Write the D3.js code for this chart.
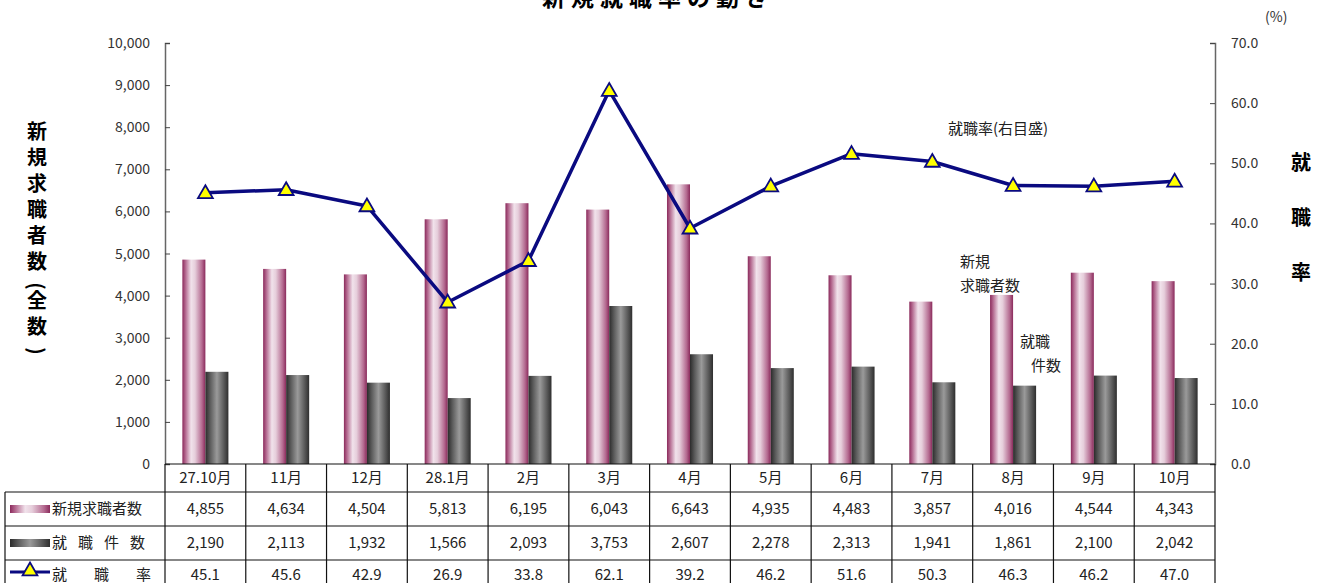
<!DOCTYPE html>
<html>
<head>
<meta charset="utf-8">
<script src="https://cdn.jsdelivr.net/npm/d3@7"></script>
<style>
  body { margin: 0; background: #fff; }
  svg { font-family: "Noto Sans CJK JP", "Noto Sans", sans-serif; }
</style>
</head>
<body>
<svg id="chart" width="1327" height="583"></svg>
<script>
// data
const months = ['27.10月', '11月', '12月', '28.1月', '2月', '3月', '4月', '5月', '6月', '7月', '8月', '9月', '10月'];
const seekers = [4855, 4634, 4504, 5813, 6195, 6043, 6643, 4935, 4483, 3857, 4016, 4544, 4343];
const placements = [2190, 2113, 1932, 1566, 2093, 3753, 2607, 2278, 2313, 1941, 1861, 2100, 2042];
const rate = [45.1, 45.6, 42.9, 26.9, 33.8, 62.1, 39.2, 46.2, 51.6, 50.3, 46.3, 46.2, 47.0];
const leftTicks = [0, 1000, 2000, 3000, 4000, 5000, 6000, 7000, 8000, 9000, 10000];
const rightTicks = [0, 10, 20, 30, 40, 50, 60, 70];

const svg = d3.select('#chart');
const plotL = 165, plotR = 1215, plotT = 43, base = 464;

const x = d3.scaleBand().domain(months).range([plotL, plotR]);
const yL = d3.scaleLinear().domain([0, 10000]).range([base, plotT]);
const yR = d3.scaleLinear().domain([0, 70]).range([base, plotT]);

// gradients for the cylinder-looking bars
const defs = svg.append('defs');
const pink = defs.append('linearGradient').attr('id', 'pink');
[[0, '#8a2a5b'], [0.12, '#b0628a'], [0.38, '#f1e2eb'], [0.55, '#e6cedb'], [0.85, '#b46a90'], [1, '#8a2a5b']]
  .forEach(s => pink.append('stop').attr('offset', s[0]).attr('stop-color', s[1]));
const gray = defs.append('linearGradient').attr('id', 'gray');
[[0, '#2b2b2b'], [0.2, '#5a5a5a'], [0.5, '#9a9a9a'], [0.8, '#5a5a5a'], [1, '#2e2e2e']]
  .forEach(s => gray.append('stop').attr('offset', s[0]).attr('stop-color', s[1]));

// title, cut off at the top like the picture
svg.append('text').attr('x', 658).attr('y', 6).attr('text-anchor', 'middle')
  .attr('font-size', 23).attr('font-weight', 'bold').attr('letter-spacing', 6)
  .text('新規就職率の動き');

// bars
const bw = x.bandwidth() * 0.285;
const center = d => x(d) + x.bandwidth() / 2;
svg.append('g').selectAll('rect').data(months).join('rect')
  .attr('x', d => center(d) - bw).attr('width', bw)
  .attr('y', (d, i) => yL(seekers[i])).attr('height', (d, i) => base - yL(seekers[i]))
  .attr('fill', 'url(#pink)');
svg.append('g').selectAll('rect').data(months).join('rect')
  .attr('x', d => center(d)).attr('width', bw)
  .attr('y', (d, i) => yL(placements[i])).attr('height', (d, i) => base - yL(placements[i]))
  .attr('fill', 'url(#gray)');

// axes
const axL = svg.append('g').attr('transform', `translate(${plotL},0)`)
  .call(d3.axisRight(yL).tickValues(leftTicks).tickSize(5).tickFormat(''));
const axR = svg.append('g').attr('transform', `translate(${plotR},0)`)
  .call(d3.axisLeft(yR).tickValues(rightTicks).tickSize(5).tickFormat(''));
[axL, axR].forEach(a => {
  a.select('.domain').attr('stroke', '#666').attr('stroke-width', 1.5);
  a.selectAll('.tick line').attr('stroke', '#444');
});
svg.append('g').selectAll('text').data(leftTicks).join('text')
  .attr('x', 150).attr('y', d => yL(d) + 5).attr('text-anchor', 'end')
  .attr('font-size', 14).attr('fill', '#333').text(d => d3.format(',')(d));
svg.append('g').selectAll('text').data(rightTicks).join('text')
  .attr('x', 1231).attr('y', d => yR(d) + 5)
  .attr('font-size', 14).attr('fill', '#333').text(d => d.toFixed(1));
svg.append('text').attr('x', 1265).attr('y', 22).attr('font-size', 14).attr('fill', '#333').text('(%)');

// axis titles (vertical); brackets are turned and take a short step
const leftTitle = '新規求職者数(全数)'.split('');
let ty = 139;
const titleY = leftTitle.map(c => {
  const half = c === '(' || c === ')';
  const y = ty + (half ? -9 : 0);
  ty += half ? 13 : 26;
  return y;
});
svg.append('g').selectAll('text').data(leftTitle).join('text')
  .attr('x', 37).attr('y', (d, i) => titleY[i]).attr('text-anchor', 'middle')
  .attr('dominant-baseline', (d) => (d === '(' || d === ')') ? 'central' : null)
  .attr('transform', (d, i) => (d === '(' || d === ')') ? `rotate(90 37 ${titleY[i]})` : null)
  .attr('font-size', 20).attr('font-weight', 'bold').text(d => d);
svg.append('g').selectAll('text').data(['就', '職', '率']).join('text')
  .attr('x', 1301).attr('y', (d, i) => 170 + i * 55).attr('text-anchor', 'middle')
  .attr('font-size', 20).attr('font-weight', 'bold').text(d => d);

// rate line
const line = d3.line().x((d, i) => center(months[i])).y(d => yR(d));
svg.append('path').datum(rate).attr('d', line)
  .attr('fill', 'none').attr('stroke', '#0a0a80').attr('stroke-width', 3.5).attr('stroke-linejoin', 'round');
const tri = d3.symbol().type(d3.symbolTriangle).size(95);
svg.append('g').selectAll('path').data(rate).join('path')
  .attr('d', tri).attr('transform', (d, i) => `translate(${center(months[i])},${yR(d) + 1})`)
  .attr('fill', '#ffff00').attr('stroke', '#0a0a80').attr('stroke-width', 1.8);

// annotations
const note = (t, xx, yy) => svg.append('text').attr('x', xx).attr('y', yy)
  .attr('font-size', 15).attr('fill', '#222').text(t);
note('就職率(右目盛)', 948, 134);
note('新規', 960, 267);
note('求職者数', 960, 291);
note('就職', 1020, 347);
note('件数', 1031, 371);

// data table
const rows = [base, 492, 526, 560, 590];
const tbl = svg.append('g').attr('stroke', '#111').attr('stroke-width', 1.2);
tbl.append('line').attr('x1', plotL).attr('x2', plotR).attr('y1', base).attr('y2', base);
rows.slice(1).forEach(r => tbl.append('line').attr('x1', 5).attr('x2', plotR).attr('y1', r).attr('y2', r));
tbl.append('line').attr('x1', 5).attr('x2', 5).attr('y1', 492).attr('y2', 590);
const cols = months.map(m => x(m)).concat([plotR]);
tbl.selectAll('.col').data(cols).join('line').attr('class', 'col')
  .attr('x1', d => d).attr('x2', d => d).attr('y1', base).attr('y2', 590);

const my = r => (rows[r] + rows[r + 1]) / 2;
const cellRows = [months, seekers.map(d3.format(',')), placements.map(d3.format(',')), rate.map(d => d.toFixed(1))];
cellRows.forEach((vals, r) => {
  svg.append('g').selectAll('text').data(vals).join('text')
    .attr('x', (d, i) => center(months[i])).attr('y', my(r) + 5)
    .attr('text-anchor', 'middle').attr('font-size', 15).attr('fill', '#222').text(d => d);
});

// legend cells
svg.append('rect').attr('x', 10).attr('y', my(1) - 4).attr('width', 40).attr('height', 8).attr('fill', 'url(#pink)');
svg.append('rect').attr('x', 10).attr('y', my(2) - 4).attr('width', 40).attr('height', 8).attr('fill', 'url(#gray)');
svg.append('line').attr('x1', 10).attr('x2', 50).attr('y1', my(3) - 3).attr('y2', my(3) - 3)
  .attr('stroke', '#0a0a80').attr('stroke-width', 3);
svg.append('path').attr('d', tri).attr('transform', `translate(30,${my(3) - 4})`)
  .attr('fill', '#ffff00').attr('stroke', '#0a0a80').attr('stroke-width', 1.8);
const legText = (t, r, sp) => svg.append('text').attr('x', 52).attr('y', my(r) + 5)
  .attr('font-size', 15).attr('fill', '#222').attr('letter-spacing', sp).text(t);
legText('新規求職者数', 1, 0);
legText('就職件数', 2, 11);
legText('就職率', 3, 27);
</script>
</body>
</html>
